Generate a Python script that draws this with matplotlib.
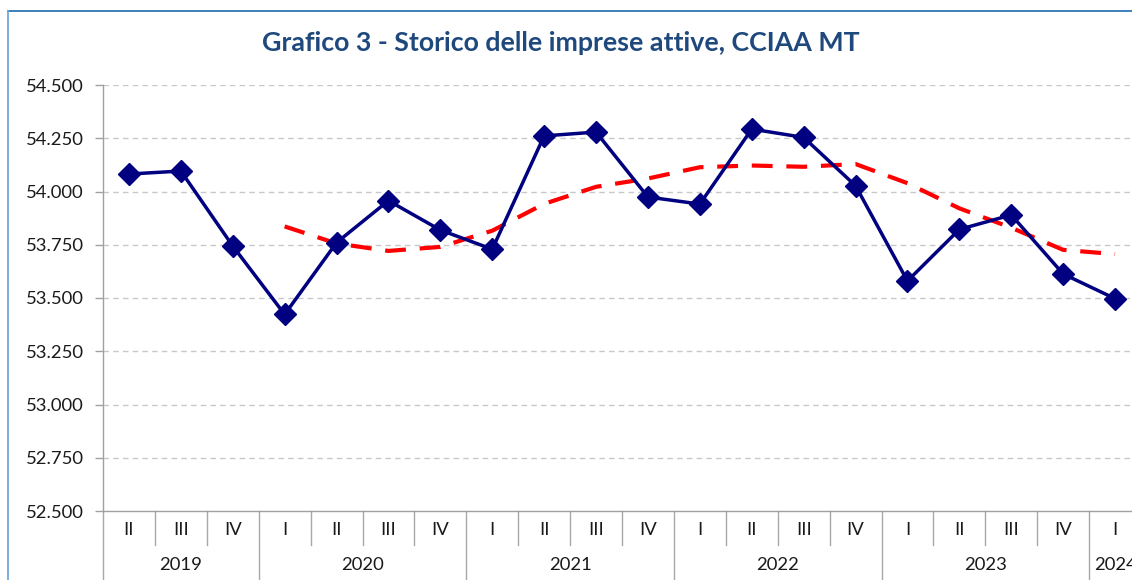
import matplotlib
matplotlib.use("Agg")
import matplotlib.pyplot as plt
from matplotlib.transforms import blended_transform_factory
from matplotlib.lines import Line2D

# ---- data ----
quarters = ["II", "III", "IV",
            "I", "II", "III", "IV",
            "I", "II", "III", "IV",
            "I", "II", "III", "IV",
            "I", "II", "III", "IV",
            "I"]
years = ["2019", "2020", "2021", "2022", "2023", "2024"]
year_counts = [3, 4, 4, 4, 4, 1]
imprese = [54082, 54096, 53744, 53423, 53760, 53957, 53819, 53729,
           54261, 54279, 53974, 53941, 54293, 54254, 54027, 53580,
           53822, 53890, 53613, 53497]
# trend (moving average), starts at 4th category
trend = [53836, 53756, 53721, 53740, 53816, 53942, 54022, 54061,
         54114, 54122, 54116, 54129, 54039, 53921, 53830, 53726, 53706]
trend_start = 3
yticks = [52500, 52750, 53000, 53250, 53500, 53750, 54000, 54250, 54500]
title = "Grafico 3 - Storico delle imprese attive, CCIAA MT"

plt.rcParams['font.family'] = ['Lato', 'DejaVu Sans']

W, H = 1132, 580
fig = plt.figure(figsize=(W / 100, H / 100), dpi=100)
fig.patch.set_facecolor("white")

# chart border (blue), partly cropped: only top and left edges visible
border_col = "#2E75B6"
fig.add_artist(Line2D([8 / W, 1.05], [1 - 11 / H, 1 - 11 / H],
                      transform=fig.transFigure, color=border_col, linewidth=1.3))
fig.add_artist(Line2D([8 / W, 8 / W], [1 - 11 / H, -0.05],
                      transform=fig.transFigure, color="#6FA8DC", linewidth=1.3))

ax = fig.add_axes([103 / W, (H - 511) / H, (1141 - 103) / W, (511 - 85) / H])
n = len(imprese)
x = list(range(n))

ax.plot(x, imprese, color="#000080", linewidth=2.5, marker="D",
        markersize=11, zorder=3, clip_on=False)
ax.plot(list(range(trend_start, trend_start + len(trend))), trend,
        color="#FF0000", linewidth=3, dashes=(5, 3.3), zorder=2,
        solid_capstyle="butt", dash_capstyle="butt")

ax.set_xlim(-0.5, n - 0.5)
ax.set_ylim(yticks[0], yticks[-1])
ax.set_yticks(yticks)
ax.set_yticklabels([f"{v:,.0f}".replace(",", ".") for v in yticks],
                   fontsize=13.3, color="#1a1a1a")
ax.tick_params(axis="y", length=6, width=1, color="#A0A0A0", pad=8)
ax.set_xticks([])
for yv in yticks[1:]:
    ax.axhline(yv, color="#C8C8C8", linewidth=1, linestyle=(0, (4, 3)), zorder=1)

for s in ["top", "right"]:
    ax.spines[s].set_visible(False)
ax.spines["left"].set_color("#A0A0A0")
ax.spines["bottom"].set_color("#A0A0A0")
ax.spines["left"].set_linewidth(1)
ax.spines["bottom"].set_linewidth(1)

# category axis
tr = blended_transform_factory(ax.transData, ax.transAxes)
ah = 511 - 85
q_bottom = -(545 - 511) / ah
y_bottom = -(585 - 511) / ah
year_start_idx = []
acc = 0
for c in year_counts:
    year_start_idx.append(acc)
    acc += c
for i in range(n + 1):
    xb = i - 0.5
    yb = y_bottom if (i in year_start_idx or i == n) else q_bottom
    ax.plot([xb, xb], [0, yb], transform=tr, color="#A8A8A8",
            linewidth=1, clip_on=False)
for i, q in enumerate(quarters):
    ax.text(i, -(530 - 511) / ah, q, transform=tr, ha="center", va="center",
            fontsize=13.3, color="#1a1a1a")
for yr, st, c in zip(years, year_start_idx, year_counts):
    ax.text(st + (c - 1) / 2, -(565 - 511) / ah, yr, transform=tr,
            ha="center", va="center", fontsize=13.3, color="#1a1a1a")

fig.text(561 / W, 1 - 43 / H, title, ha="center", va="center",
         fontsize=19.3, fontweight="bold", color="#1F497D")

fig.savefig("out.png", dpi=100)
